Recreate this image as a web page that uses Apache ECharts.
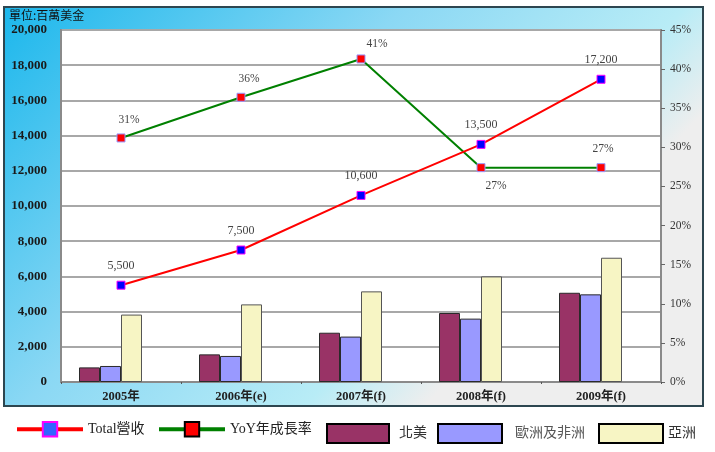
<!DOCTYPE html>
<html>
<head>
<meta charset="utf-8">
<script src="https://cdn.jsdelivr.net/npm/echarts@6/dist/echarts.min.js"></script>
<style>
html,body{margin:0;padding:0;background:#fff;}
#chart{width:715px;height:452px;}
</style>
</head>
<body>
<div id="chart"></div>
<script>
var categories = ['2005年', '2006年(e)', '2007年(f)', '2008年(f)', '2009年(f)'];
var totalRevenue = [5500, 7500, 10600, 13500, 17200];
var yoyGrowth = [31.2, 36.4, 41.3, 27.4, 27.4];
var northAmerica = [830, 1570, 2800, 3920, 5070];
var europeAfrica = [910, 1480, 2580, 3600, 4980];
var asia = [3830, 4410, 5150, 6000, 7060];
var seriesNames = ['Total營收', 'YoY年成長率', '北美', '歐洲及非洲', '亞洲'];
var unitText = '單位:百萬美金';

// label style tweaks for the YoY series (style, not data)
var yoyLabelStyle = [
  {position: 'top', offset: [8, 0]},
  {position: 'top', offset: [8, 0]},
  {position: 'top', offset: [16, 3]},
  {position: 'bottom', offset: [15, 0]},
  {position: 'top', offset: [2, 0]}
];

var serif = "'Liberation Serif','Noto Sans CJK TC',serif";
var chart = echarts.init(document.getElementById('chart'), null, {renderer: 'canvas'});

function legendItem(name, left, top, w, h, extra) {
  var l = {
    data: [name], left: left, top: top, padding: 0,
    itemWidth: w, itemHeight: h, selectedMode: false,
    textStyle: {fontFamily: serif, fontSize: 14, color: '#222'}
  };
  for (var k in extra) l[k] = extra[k];
  return l;
}

var option = {
  animation: false,
  backgroundColor: '#fff',
  graphic: [{
    type: 'rect', z: -10, silent: true,
    shape: {x: 4, y: 7, width: 699, height: 399},
    style: {
      fill: new echarts.graphic.LinearGradient(0, 0, 0.6, 1, [
        {offset: 0, color: '#1BB7EC'},
        {offset: 0.5, color: '#8BD8F4'},
        {offset: 0.85, color: '#B8ECF6'},
        {offset: 1, color: '#EEEEEE'}
      ]),
      stroke: '#2d4650', lineWidth: 2
    }
  }],
  title: {
    text: unitText, left: 9, top: 9, padding: 0,
    textStyle: {fontFamily: "'Noto Sans CJK TC',sans-serif", fontSize: 12, fontWeight: 'normal', color: '#111'}
  },
  legend: [
    legendItem(seriesNames[0], 15, 421, 66, 18, {
      itemStyle: {color: '#3366FF', borderColor: '#FF00FF', borderWidth: 2},
      lineStyle: {width: 4}
    }),
    legendItem(seriesNames[1], 157, 421, 66, 18, {
      itemStyle: {color: '#FF0000', borderColor: '#000', borderWidth: 2},
      lineStyle: {width: 4}
    }),
    legendItem(seriesNames[2], 326, 423, 62, 19, {
      icon: 'rect', itemStyle: {borderColor: '#000', borderWidth: 2},
      textStyle: {fontFamily: serif, fontSize: 14, color: '#333', padding: [0, 0, 0, 5]}
    }),
    legendItem(seriesNames[3], 437, 423, 64, 19, {
      icon: 'rect', itemStyle: {borderColor: '#000', borderWidth: 2},
      textStyle: {fontFamily: serif, fontSize: 14, color: '#555', padding: [0, 0, 0, 8]}
    }),
    legendItem(seriesNames[4], 598, 423, 64, 19, {
      icon: 'rect', itemStyle: {borderColor: '#000', borderWidth: 2},
      textStyle: {fontFamily: serif, fontSize: 14, color: '#333'}
    })
  ],
  grid: {
    left: 61, right: 54, top: 30, bottom: 70,
    show: true, backgroundColor: '#fff', borderColor: '#8a8a8a', borderWidth: 2
  },
  xAxis: {
    type: 'category', data: categories,
    axisLine: {show: true, lineStyle: {color: '#8a8a8a', width: 2}},
    axisTick: {show: true, length: 2, lineStyle: {color: '#555'}},
    axisLabel: {margin: 9, fontFamily: serif, fontSize: 12.5, fontWeight: 'bold', color: '#222'}
  },
  yAxis: [{
    type: 'value', min: 0, max: 20000, interval: 2000,
    axisLine: {show: true, lineStyle: {color: '#8a8a8a', width: 2}},
    axisTick: {show: false},
    splitLine: {show: true, lineStyle: {color: '#a8a8a8', width: 2}},
    axisLabel: {
      margin: 14, fontFamily: serif, fontSize: 13, fontWeight: 'bold', color: '#1a1a1a',
      formatter: function (v) { return v.toLocaleString('en-US'); }
    }
  }, {
    type: 'value', min: 0, max: 45, interval: 5,
    axisLine: {show: true, lineStyle: {color: '#8a8a8a', width: 2}},
    axisTick: {show: true, length: 4, inside: false, lineStyle: {color: '#666'}},
    splitLine: {show: false},
    axisLabel: {margin: 9, fontFamily: serif, fontSize: 11.5, color: '#333', formatter: '{value}%'}
  }],
  series: [{
    name: seriesNames[0], type: 'line', yAxisIndex: 0, z: 4,
    data: totalRevenue,
    symbol: 'rect', symbolSize: 8,
    lineStyle: {color: '#FF0000', width: 2},
    itemStyle: {color: '#0000FF', borderColor: '#FF00FF', borderWidth: 1},
    label: {
      show: true, position: 'top', distance: 9,
      fontFamily: serif, fontSize: 12, color: '#444',
      formatter: function (p) { return p.value.toLocaleString('en-US'); }
    }
  }, {
    name: seriesNames[1], type: 'line', yAxisIndex: 1, z: 3,
    data: yoyGrowth.map(function (v, i) {
      return {value: v, label: yoyLabelStyle[i]};
    }),
    symbol: 'rect', symbolSize: 8,
    lineStyle: {color: '#008000', width: 2},
    itemStyle: {color: '#FF0000', borderColor: '#9999FF', borderWidth: 1},
    label: {
      show: true, distance: 8,
      fontFamily: serif, fontSize: 11.5, color: '#444',
      formatter: function (p) { return Math.round(p.value) + '%'; }
    }
  }, {
    name: seriesNames[2], type: 'bar', data: northAmerica,
    barWidth: 21, barGap: '0%',
    itemStyle: {color: '#993366', borderColor: '#2a2a2a', borderWidth: 1}
  }, {
    name: seriesNames[3], type: 'bar', data: europeAfrica,
    barWidth: 21, barGap: '0%',
    itemStyle: {color: '#9999FF', borderColor: '#2a2a2a', borderWidth: 1}
  }, {
    name: seriesNames[4], type: 'bar', data: asia,
    barWidth: 21, barGap: '0%',
    itemStyle: {color: '#F7F5C4', borderColor: '#555', borderWidth: 1}
  }, {
    name: 'spacer', type: 'bar', data: categories.map(function () { return null; }),
    barWidth: 21, barGap: '0%', silent: true
  }]
};
chart.setOption(option);
</script>
</body>
</html>
